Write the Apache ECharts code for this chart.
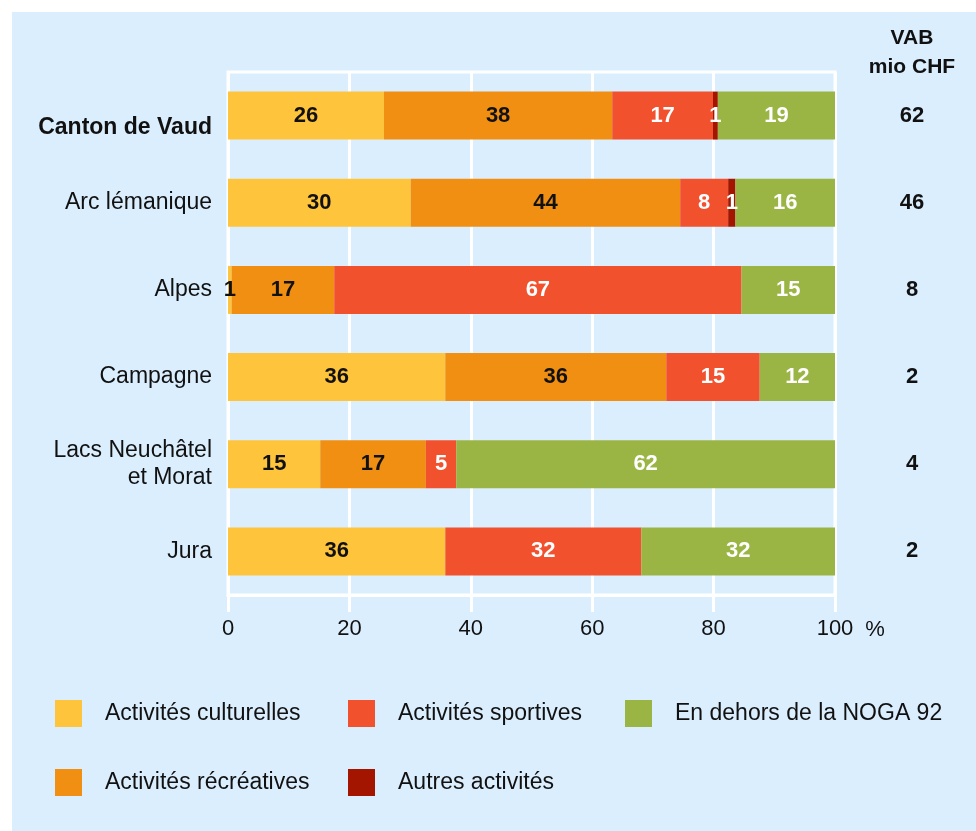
<!DOCTYPE html>
<html>
<head>
<meta charset="utf-8">
<script src="https://cdn.jsdelivr.net/npm/echarts@6/dist/echarts.min.js"></script>
<style>
  body { margin: 0; background: #ffffff; }
  #main { position: absolute; left: 12px; top: 12px; width: 964px; height: 819px; background: #dbeefd; }
</style>
</head>
<body>
<div id="main"></div>
<script>
// categories, top to bottom
var categories = ['Canton de Vaud', 'Arc lémanique', 'Alpes', 'Campagne', 'Lacs Neuchâtel\net Morat', 'Jura'];
// shares in %
var culturelles = [25.7, 30.1, 0.6, 35.8, 15.2, 35.8];
var recreatives = [37.6, 44.4, 16.9, 36.4, 17.4, 0];
var sportives   = [16.6, 7.9, 67.1, 15.4, 5.0, 32.3];
var autres      = [0.8, 1.2, 0, 0, 0, 0];
var noga        = [19.3, 16.4, 15.4, 12.4, 62.4, 31.9];
// VAB mio CHF
var vab = [62, 46, 8, 2, 4, 2];

var seriesNames = ['Activités culturelles', 'Activités récréatives', 'Activités sportives', 'Autres activités', 'En dehors de la NOGA 92'];
var seriesData  = [culturelles, recreatives, sportives, autres, noga];
var seriesColors = ['#fec43b', '#f08f11', '#f2512e', '#a41500', '#9bb545'];
var labelColors  = ['#111', '#111', '#fff', '#fff', '#fff'];

var FONT = '"Liberation Sans", Arial, sans-serif';
var FS = 22;

function makeSeries(){
	var s = [];
	for (var i = 0; i < seriesNames.length; i++) {
		s.push({
			name: seriesNames[i],
			type: 'bar',
			stack: 'total',
			barWidth: 48,
			data: seriesData[i],
			itemStyle: { color: seriesColors[i] },
			label: {
				show: true,
				position: 'inside',
				color: labelColors[i],
				fontFamily: FONT,
				fontSize: FS,
				fontWeight: 'bold',
				formatter: function (p) {
					return p.value > 0 ? Math.round(p.value) : '';
				}
			}
		});
	}
	return s;
}

// one legend per item so the columns sit where they should
function legendItem(name, left, top){
	return {
		data: [name],
		left: left,
		top: top,
		padding: 0,
		itemWidth: 27,
		itemHeight: 27,
		icon: 'rect',
		selectedMode: false,
		textStyle: { fontFamily: FONT, fontSize: 23, color: '#111', padding: [0, 0, 0, 18] }
	};
}

var chart = echarts.init(document.getElementById('main'));

var option = {
	backgroundColor: 'transparent',
	animation: false,
	grid: {
		left: 216, right: 141, top: 60, bottom: 236,
		show: true, borderColor: '#ffffff', borderWidth: 3
	},
	xAxis: {
		type: 'value',
		min: 0, max: 100, interval: 20,
		axisLine: { show: true, lineStyle: { color: '#ffffff', width: 3 } },
		axisTick: { show: true, length: 17, lineStyle: { color: '#ffffff', width: 3 } },
		axisLabel: { margin: 23, fontFamily: FONT, fontSize: FS, color: '#111' },
		splitLine: { show: true, lineStyle: { color: '#ffffff', width: 3 } }
	},
	yAxis: [
		{
			type: 'category',
			data: categories,
			inverse: true,
			axisLine: { show: false },
			axisTick: { show: false },
			splitLine: { show: false },
			axisLabel: {
				margin: 16,
				fontFamily: FONT,
				fontSize: 23,
				color: '#111',
				lineHeight: 27,
				formatter: function (v, i) { return i === 0 ? '{b|' + v + '}' : v; },
				rich: { b: { fontFamily: FONT, fontSize: 23, fontWeight: 'bold', color: '#111', padding: [24, 0, 0, 0] } }
			}
		},
		{
			type: 'category',
			data: vab,
			inverse: true,
			position: 'right',
			axisLine: { show: false },
			axisTick: { show: false },
			splitLine: { show: false },
			axisLabel: { margin: 77, align: 'center', fontFamily: FONT, fontSize: FS, fontWeight: 'bold', color: '#111' }
		}
	],
	legend: [
		legendItem(seriesNames[0], 43, 688),
		legendItem(seriesNames[2], 336, 688),
		legendItem(seriesNames[4], 613, 688),
		legendItem(seriesNames[1], 43, 757),
		legendItem(seriesNames[3], 336, 757)
	],
	graphic: [
		{
			type: 'text',
			x: 900, y: 12,
			style: {
				text: 'VAB\nmio CHF',
				textAlign: 'center',
				fontFamily: FONT,
				fontSize: 21,
				fontWeight: 'bold',
				lineHeight: 29,
				fill: '#111'
			}
		},
		{
			type: 'text',
			x: 863, y: 618,
			style: {
				text: '%',
				textAlign: 'center',
				textVerticalAlign: 'middle',
				fontFamily: FONT,
				fontSize: FS,
				fill: '#111'
			}
		}
	],
	series: makeSeries()
};

chart.setOption(option);
</script>
</body>
</html>
